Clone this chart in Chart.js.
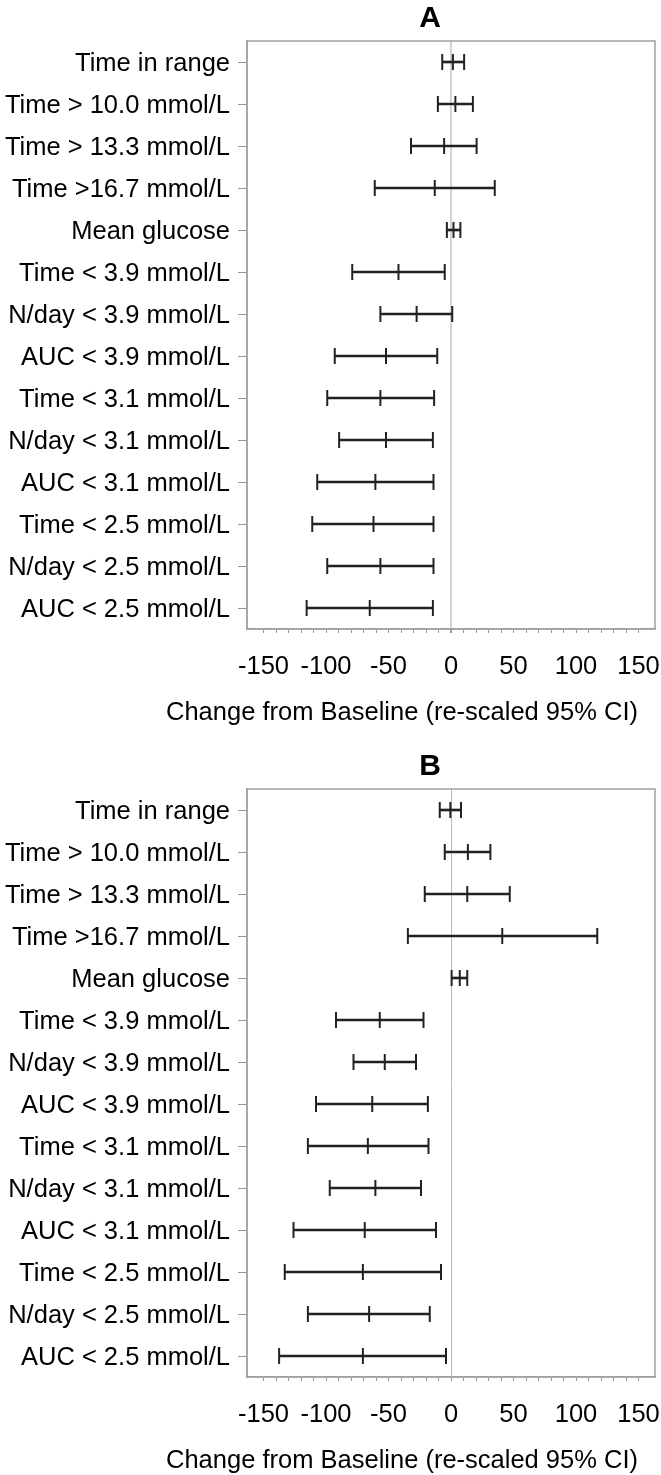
<!DOCTYPE html>
<html>
<head>
<meta charset="utf-8">
<script src="https://cdn.jsdelivr.net/npm/chart.js@4.4.1/dist/chart.umd.min.js"></script>
<style>
  body { margin: 0; background: #fff; overflow: hidden; }
  .panel { position: relative; width: 661px; height: 748px; }
</style>
</head>
<body>
<div class="panel"><canvas id="chartA"></canvas></div>
<div class="panel"><canvas id="chartB"></canvas></div>
<script>
/* categories (top to bottom) */
const categories = [
  'Time in range', 'Time > 10.0 mmol/L', 'Time > 13.3 mmol/L', 'Time >16.7 mmol/L',
  'Mean glucose', 'Time < 3.9 mmol/L', 'N/day < 3.9 mmol/L', 'AUC < 3.9 mmol/L',
  'Time < 3.1 mmol/L', 'N/day < 3.1 mmol/L', 'AUC < 3.1 mmol/L', 'Time < 2.5 mmol/L',
  'N/day < 2.5 mmol/L', 'AUC < 2.5 mmol/L'
];

/* panel A: change from baseline, re-scaled 95% CI */
const lowerA = [-7, -10.5, -32, -61, -3.3, -79, -56.5, -93, -99, -89.5, -107, -111, -99, -115.5];
const meanA  = [1.5, 3.5, -5.5, -13, 2, -42, -27.5, -52, -56.5, -52, -60.5, -62, -56.5, -65];
const upperA = [10.5, 17.5, 20.5, 35, 7.5, -5, 1, -11, -13.5, -14.5, -14, -14, -14, -14.5];

/* panel B */
const lowerB = [-9, -5, -21, -34.5, 0.5, -92, -78, -108, -114.5, -97, -126, -133, -114.5, -137.5];
const meanB  = [-0.5, 13.5, 13, 41, 7, -57, -53, -63, -66.5, -60.5, -69, -70.5, -65.5, -70.5];
const upperB = [8, 31.5, 47, 117, 13, -22, -28, -18.5, -18, -24, -12, -8, -17, -4];

const majorTicks = [-150, -100, -50, 0, 50, 100, 150];
const minorStep = 10;
const axisTitle = 'Change from Baseline (re-scaled 95% CI)';

const FONT = '"Liberation Sans", Arial, sans-serif';
const INK = '#222';

/* box round the plot area, panel letter and the x title
   (the scale's own title gets squeezed to the plot width) */
const framePlugin = {
  id: 'frame',
  afterDraw(chart, args, opts) {
    const a = chart.chartArea;
    const ctx = chart.ctx;
    ctx.save();
    ctx.strokeStyle = '#a0a0a0';
    ctx.lineWidth = 1.5;
    ctx.strokeRect(a.left, a.top, a.right - a.left, a.bottom - a.top);
    ctx.fillStyle = '#000';
    ctx.textAlign = 'center';
    ctx.textBaseline = 'alphabetic';
    ctx.font = 'bold 30px ' + FONT;
    ctx.fillText(opts.letter, 430, 26.5);
    ctx.font = '25.5px ' + FONT;
    ctx.fillText(opts.xTitle, 402, a.bottom + 91);
    ctx.restore();
  }
};

function capDataset(values) {
  return {
    type: 'line',
    indexAxis: 'y',
    data: values,
    showLine: false,
    pointStyle: 'line',
    rotation: 90,
    pointRadius: 8,
    pointHoverRadius: 8,
    pointBorderWidth: 2,
    pointBorderColor: INK,
    pointBackgroundColor: INK,
  };
}

function forest(id, letter, lower, mean, upper, zeroColor, zeroWidth) {
  return new Chart(document.getElementById(id), {
    type: 'bar',
    data: {
      labels: categories,
      datasets: [
        {
          data: lower.map((l, i) => [l, upper[i]]),
          backgroundColor: INK,
          borderWidth: 0,
          barThickness: 2,
          indexAxis: 'y',
        },
        capDataset(lower),
        capDataset(mean),
        capDataset(upper),
      ],
    },
    options: {
      indexAxis: 'y',
      responsive: true,
      maintainAspectRatio: false,
      animation: false,
      layout: { autoPadding: false, padding: { top: 41, right: 6, left: 0, bottom: 0 } },
      plugins: {
        legend: { display: false },
        tooltip: { enabled: false },
        frame: { letter: letter, xTitle: axisTitle },
      },
      scales: {
        x: {
          type: 'linear',
          min: -163.2,
          max: 163.2,
          afterBuildTicks: (scale) => {
            const t = [];
            for (let v = majorTicks[0]; v <= majorTicks[majorTicks.length - 1]; v += minorStep) {
              t.push({ value: v });
            }
            scale.ticks = t;
          },
          afterFit: (scale) => {
            scale.height = 119;
            scale.paddingLeft = 0;
            scale.paddingRight = 0;
          },
          ticks: {
            autoSkip: false,
            maxRotation: 0,
            padding: 19,
            color: '#000',
            font: { family: FONT, size: 25.5 },
            callback: (v) => (majorTicks.includes(v) ? String(v) : ''),
          },
          grid: {
            drawOnChartArea: true,
            tickLength: 4,
            tickColor: '#999',
            color: (c) => (c.tick && c.tick.value === 0 ? zeroColor : 'rgba(0,0,0,0)'),
            lineWidth: (c) => (c.tick && c.tick.value === 0 ? zeroWidth : 1),
          },
          border: { color: '#a0a0a0', width: 1.5 },
        },
        y: {
          type: 'category',
          afterFit: (scale) => {
            scale.width = 247;
            scale.paddingTop = 0;
            scale.paddingBottom = 0;
          },
          ticks: {
            color: '#000',
            padding: 8,
            labelOffset: 2,
            font: { family: FONT, size: 25.5 },
          },
          grid: {
            offset: false,
            drawOnChartArea: false,
            tickLength: 9,
            tickColor: '#999',
          },
          border: { color: '#a0a0a0', width: 1.5 },
        },
      },
    },
    plugins: [framePlugin],
  });
}

forest('chartA', 'A', lowerA, meanA, upperA, '#d4d4d4', 2);
forest('chartB', 'B', lowerB, meanB, upperB, '#b8b8b8', 1);
</script>
</body>
</html>
